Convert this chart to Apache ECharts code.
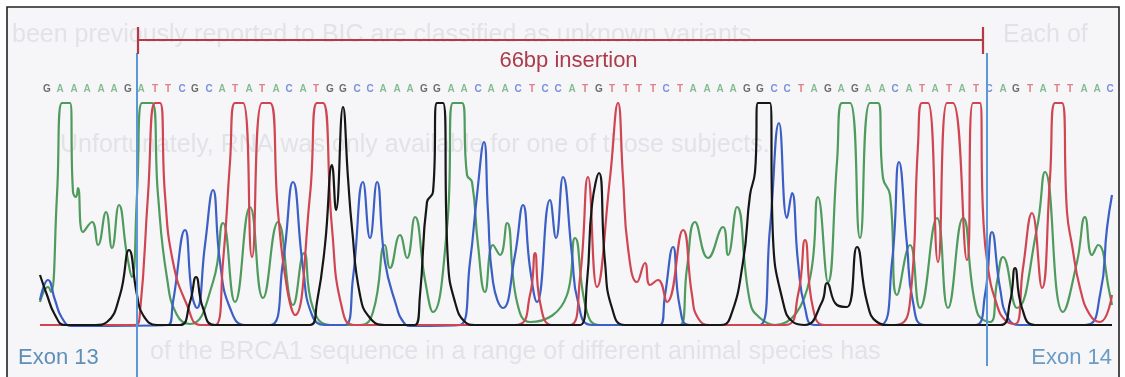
<!DOCTYPE html>
<html>
<head>
<meta charset="utf-8">
<script src="https://cdn.jsdelivr.net/npm/echarts@6/dist/echarts.min.js"></script>
<style>
  html, body { margin: 0; padding: 0; background: #ffffff; }
  #chart { width: 1125px; height: 377px; }
</style>
</head>
<body>
<div id="chart"></div>
<script>
// Sequencing trace around the BRCA1 exon 13 / exon 14 junction.
// Each trace is a list of [scan, signal] points (peak tops, flanks, valleys).
const traceA = [
  [0,25],[8,40],[11,35],[17,132],[22,224],[30,224],[33,135],[36,130],[38,139],[43,95],[52,105],[58,82],
  [66,115],[72,79],[79,122],[87,72],[92,50],[97,132],[102,224],[112,224],[118,132],[127,49],[137,12],
  [150,3],[173,45],[183,104],[195,25],[210,120],[223,29],[238,105],[253,22],[264,74],[273,19],[290,2],
  [320,2],[333,15],[345,82],[350,59],[360,92],[367,69],[375,110],[385,47],[393,15],[407,99],[413,224],
  [422,224],[427,152],[432,145],[438,82],[445,35],[453,82],[460,72],[467,104],[477,25],[490,5],[527,32],
  [535,89],[547,15],[560,2],[640,2],[647,59],[655,105],[668,69],[683,100],[688,72],[697,120],[710,25],
  [720,9],[735,2],[770,49],[778,130],[788,45],[797,165],[802,224],[810,224],[820,89],[830,224],[838,224],
  [843,149],[850,132],[857,32],[870,82],[880,19],[897,109],[908,19],[923,109],[937,15],[950,5],[957,45],
  [963,70],[977,19],[997,99],[1005,155],[1023,15],[1037,65],[1045,110],[1052,72],[1058,82],[1070,32],[1072,22]
];
const traceC = [
  [0,27],[8,47],[15,27],[22,9],[32,1],[128,2],[133,25],[145,97],[152,32],[157,19],[165,82],[173,137],
  [180,65],[190,19],[205,2],[230,2],[243,65],[253,145],[263,59],[272,12],[285,2],[305,2],[313,49],
  [323,145],[330,89],[337,145],[345,65],[357,19],[362,7],[370,1],[420,2],[430,65],[437,132],[444,185],
  [448,115],[453,45],[463,19],[475,72],[483,122],[490,59],[497,25],[510,127],[516,89],[523,150],[532,72],
  [538,25],[552,2],[620,2],[625,32],[633,80],[640,19],[650,2],[720,2],[730,99],[739,204],[747,109],
  [752,134],[758,65],[765,19],[775,2],[840,2],[852,65],[859,165],[867,82],[873,25],[885,2],[935,2],
  [945,32],[952,95],[960,39],[968,9],[980,2],[1045,2],[1060,32],[1067,99],[1072,132]
];
const traceG = [
  [0,52],[7,32],[15,12],[25,2],[55,2],[67,5],[80,32],[89,77],[97,32],[103,12],[117,2],[140,2],[150,25],
  [156,50],[163,19],[175,2],[270,2],[277,25],[285,82],[292,162],[296,117],[303,220],[308,149],[312,99],
  [320,32],[330,9],[345,2],[375,2],[380,32],[387,125],[393,135],[397,224],[403,224],[408,65],[415,25],
  [425,5],[435,2],[540,2],[547,45],[552,122],[559,154],[565,65],[572,19],[585,2],[680,2],[690,9],
  [703,65],[710,132],[715,155],[718,224],[730,224],[733,89],[743,25],[753,5],[765,2],[782,25],[787,44],
  [797,22],[807,20],[817,80],[827,25],[837,5],[850,2],[960,2],[970,25],[975,59],[982,19],[995,2],[1072,2]
];
const traceT = [
  [0,2],[95,2],[100,15],[108,132],[115,224],[120,224],[125,132],[133,65],[147,22],[160,2],[175,2],
  [183,65],[190,165],[195,224],[203,224],[212,70],[222,224],[230,224],[238,115],[247,39],[255,12],
  [270,132],[277,224],[283,224],[292,99],[302,19],[315,2],[475,2],[490,32],[495,74],[500,25],[512,2],
  [530,2],[540,49],[548,150],[557,40],[570,149],[578,224],[583,149],[588,79],[597,45],[605,64],[610,42],
  [618,47],[627,25],[643,97],[652,32],[658,9],[670,2],[745,2],[758,32],[765,87],[773,19],[785,2],
  [855,2],[870,25],[878,182],[882,224],[888,224],[898,65],[907,224],[913,224],[927,67],[933,224],
  [940,224],[943,115],[948,59],[957,22],[965,7],[975,3],[983,59],[992,114],[1002,39],[1010,149],
  [1015,224],[1022,224],[1027,115],[1032,82],[1040,39],[1050,12],[1060,5],[1072,32]
];

// Base calls and the scan at which each call is printed
const baseCalls = 'GAAAAAGATTCGCATATACATGGCCAAAGGAACAACTCCATGTTTTCTAAAAGGCCTAGAGAACATATATCAGTATTAAC';
const callScans = [
  7,20,34,47,61,74,88,101,115,128,142,155,169,182,195,209,222,236,249,263,276,290,303,317,330,343,357,
  370,384,397,411,424,438,451,465,478,492,505,518,532,545,559,572,586,599,613,626,640,653,667,680,693,
  707,720,734,747,761,774,788,801,815,828,842,855,869,882,895,909,922,936,949,963,976,990,1003,1017,
  1030,1044,1057,1070
];

// Exon boundaries and the inserted segment (scan units)
const exonBoundaries = [97, 947];
const insertion = { start: 98, end: 943, label: '66bp insertion' };
const exonLabels = ['Exon 13', 'Exon 14'];

const scanMax = 1072;
const signalMax = 224;

const baseColors = { A: '#4f9a5d', C: '#3c5fc6', G: '#161616', T: '#cf4652' };
const callColors = { A: '#6aae78', C: '#5a78d2', G: '#4a4a4a', T: '#d9606b' };

// Page text showing faintly through the figure
const ghostLines = [
  { text: 'been previously reported to BIC are classified as unknown variants.', y: 35, x: 12 },
  { text: 'Each of', y: 35, x: 1003 },
  { text: 'Unfortunately, RNA was only available for one of those subjects.', y: 145, x: 60 },
  { text: 'of the BRCA1 sequence in a range of different animal species has', y: 352, x: 150 }
];

const chart = echarts.init(document.getElementById('chart'), null, { renderer: 'canvas' });

function traceSeries(name, data) {
  return {
    type: 'line', name: name, data: data,
    xAxisIndex: 0, yAxisIndex: 0,
    smooth: 0.5,
    showSymbol: false, clip: true, silent: true,
    lineStyle: { color: baseColors[name], width: 2.2 },
    z: name === 'G' ? 5 : 4
  };
}

const callData = baseCalls.split('').map((b, i) => ({
  value: [callScans[i], 0.5],
  label: { color: callColors[b] },
  name: b
}));

chart.setOption({
  animation: false,
  backgroundColor: '#ffffff',
  grid: [
    { left: 40, right: 13, top: 103, bottom: 50 },
    { left: 40, right: 13, top: 80, height: 18 }
  ],
  xAxis: [
    { type: 'value', min: 0, max: scanMax, show: false, gridIndex: 0 },
    { type: 'value', min: 0, max: scanMax, show: false, gridIndex: 1 }
  ],
  yAxis: [
    { type: 'value', min: 0, max: signalMax, show: false, gridIndex: 0 },
    { type: 'value', min: 0, max: 1, show: false, gridIndex: 1 }
  ],
  series: [
    traceSeries('A', traceA),
    traceSeries('C', traceC),
    traceSeries('T', traceT),
    traceSeries('G', traceG),
    {
      type: 'scatter', xAxisIndex: 1, yAxisIndex: 1, data: callData,
      symbolSize: 0, silent: true,
      label: {
        show: true, position: 'inside', formatter: p => p.name,
        fontFamily: 'Liberation Sans, Arial, sans-serif', fontSize: 10, fontWeight: 'bold'
      }
    }
  ]
});

// Frame, faint page text, exon boundaries and the insertion bracket
const px = s => chart.convertToPixel({ xAxisIndex: 0 }, s);
const xb0 = px(exonBoundaries[0]);
const xb1 = px(exonBoundaries[1]);
const xi0 = px(insertion.start);
const xi1 = px(insertion.end);
const panelFill = '#f6f6f8';

const graphics = [
  { type: 'rect', shape: { x: 7, y: 7, width: 1112, height: 380 },
    style: { fill: panelFill, stroke: '#222222', lineWidth: 1.6 }, z: -20, silent: true }
];
ghostLines.forEach(g => graphics.push({
  type: 'text', x: g.x, y: g.y, z: -10, silent: true,
  style: { text: g.text, fill: '#e2e2e9', font: '25px "Liberation Sans", Arial, sans-serif',
           textVerticalAlign: 'middle' }
}));
// label boxes below the baseline, outside the exon boundaries
graphics.push(
  { type: 'rect', shape: { x: 8, y: 336, width: xb0 - 8, height: 41 }, style: { fill: panelFill }, z: -5 },
  { type: 'rect', shape: { x: xb1, y: 336, width: 1118 - xb1, height: 41 }, style: { fill: panelFill }, z: -5 }
);
const blue = '#5a98d8';
graphics.push(
  { type: 'line', shape: { x1: xb0, y1: 53, x2: xb0, y2: 377 }, style: { stroke: blue, lineWidth: 2 }, z: 20 },
  { type: 'line', shape: { x1: xb1, y1: 53, x2: xb1, y2: 366 }, style: { stroke: blue, lineWidth: 2 }, z: 20 }
);
const red = '#b53a46';
graphics.push(
  { type: 'line', shape: { x1: xi0, y1: 40, x2: xi1, y2: 40 }, style: { stroke: red, lineWidth: 2 }, z: 20 },
  { type: 'line', shape: { x1: xi0, y1: 27, x2: xi0, y2: 54 }, style: { stroke: red, lineWidth: 2.2 }, z: 20 },
  { type: 'line', shape: { x1: xi1, y1: 27, x2: xi1, y2: 54 }, style: { stroke: red, lineWidth: 2.2 }, z: 20 },
  { type: 'text', x: (xi0 + xi1) / 2 + 8, y: 61, z: 20,
    style: { text: insertion.label, fill: '#ad3c4a', font: '22px "Liberation Sans", Arial, sans-serif',
             textAlign: 'center', textVerticalAlign: 'middle' } },
  { type: 'text', x: 18, y: 358, z: 20,
    style: { text: exonLabels[0], fill: '#5d8fb8', font: '22px "Liberation Sans", Arial, sans-serif',
             textVerticalAlign: 'middle' } },
  { type: 'text', x: 1112, y: 358, z: 20,
    style: { text: exonLabels[1], fill: '#6a9cc4', font: '22px "Liberation Sans", Arial, sans-serif',
             textAlign: 'right', textVerticalAlign: 'middle' } }
);
chart.setOption({ graphic: { elements: graphics } });
</script>
</body>
</html>
